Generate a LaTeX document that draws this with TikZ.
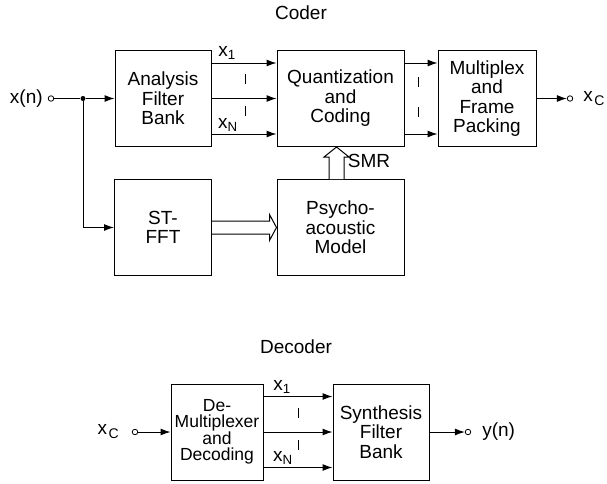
\documentclass[tikz,border=0pt]{standalone}
\usepackage{fontspec}
\setmainfont{Liberation Sans}
\usetikzlibrary{arrows.meta,positioning,calc}
\newcommand{\bigtxt}{\fontsize{19}{19.5}\selectfont}
\newcommand{\xcsym}{x\kern1.5pt\raisebox{-4pt}{\fontsize{14}{14}\selectfont C}}
\tikzset{
  block/.style={draw, line width=1pt, minimum width=#1, minimum height=96pt,
                align=center, inner sep=0pt, font=\bigtxt},
  block/.default=96pt,
  sig/.style={-{Latex[length=10pt,width=7pt]}, line width=1pt},
  wire/.style={line width=1pt},
  hollow/.style={draw, line width=1pt, fill=white, line join=miter},
  port/.style={circle, draw, line width=0.8pt, inner sep=0pt, minimum size=5.5pt},
  dot/.style={circle, fill, inner sep=0pt, minimum size=5pt},
  lbl/.style={inner sep=0pt, font=\bigtxt},
  tick/.style={line width=0.7pt},
}

\begin{document}
\begin{tikzpicture}[x=1pt,y=-1pt]
  \useasboundingbox (0,0) rectangle (607,483);
  % coder
  \node[lbl] (coder) at (301,13) {Coder};
  \node[block] (afb) at (163,98.5) {Analysis\\Filter\\Bank};
  \node[block=127pt,right=65pt of afb] (qc) {Quantization\\and\\Coding};
  \node[block=98pt,right=33pt of qc] (mux) {Multiplex\\and\\Frame\\Packing};
  \node[block=97pt,below=32pt of afb] (fft) {ST-\\FFT};
  \node[block=127pt,below=32pt of qc] (psy) {Psycho-\\acoustic\\Model};

  \node[port] (in) at (51,98.5) {};
  \node[lbl,left=5pt of in] (xn) {x(n)};
  \node[dot] (br) at (83,98.5) {};
  \draw[wire] (in) -- (br);
  \draw[sig] (br) -- (afb);
  \draw[sig] (br) |- (fft);

  \foreach \dy in {35.5,0,-35.5}
    \draw[sig] ([yshift=\dy pt]afb.east) -- ([yshift=\dy pt]qc.west);
  \node[lbl] (xa1) at (227,53) {x\textsubscript{1}};
  \node[lbl] (xaN) at (228,125) {x\textsubscript{N}};
  \draw[tick] (245,74) -- (245,84);
  \draw[tick] (245,106) -- (245,116);

  \foreach \dy in {35.5,-35.5}
    \draw[sig] ([yshift=\dy pt]qc.east) -- ([yshift=\dy pt]mux.west);
  \draw[tick] (418,77) -- (418,87);
  \draw[tick] (418,107) -- (418,117);

  \node[port] (out) at (570,98.5) {};
  \draw[sig] (mux) -- (out);
  \node[lbl,right=10pt of out] (xc) {\xcsym};

  % block arrows
  \draw[hollow] ($(fft.east)+(0pt,6.5pt)$) -- ($(psy.west)+(-7pt,6.5pt)$)
    -- ($(psy.west)+(-7pt,13pt)$) -- (psy.west) -- ($(psy.west)+(-7pt,-13pt)$)
    -- ($(psy.west)+(-7pt,-6.5pt)$) -- ($(fft.east)+(0pt,-6.5pt)$);
  \draw[hollow] ($(psy.north)+(-11.5pt,0pt)$) -- ($(qc.south)+(-11.5pt,-10pt)$)
    -- ($(qc.south)+(-16.5pt,-10pt)$) -- ($(qc.south)+(-4pt,0pt)$)
    -- ($(qc.south)+(8.5pt,-10pt)$) -- ($(qc.south)+(3.5pt,-10pt)$)
    -- ($(psy.north)+(3.5pt,0pt)$);
  \node[lbl] (smr) at (369,161) {SMR};

  % decoder
  \node[lbl] (decoder) at (296,347) {Decoder};
  \node[block=92pt,font=\fontsize{17.5}{16.5}\selectfont] (dmx) at (217,432) {De-\\Multiplexer\\and\\Decoding};
  \node[block,right=69pt of dmx] (syn) {Synthesis\\Filter\\Bank};

  \node[port] (din) at (135,432) {};
  \node[lbl,left=13pt of din] (dxc) {\xcsym};
  \draw[sig] (din) -- (dmx);

  \foreach \dy in {35.5,0,-35.5}
    \draw[sig] ([yshift=\dy pt]dmx.east) -- ([yshift=\dy pt]syn.west);
  \node[lbl] (xb1) at (282,387) {x\textsubscript{1}};
  \node[lbl] (xbN) at (283,458) {x\textsubscript{N}};
  \draw[tick] (298,408) -- (298,418);
  \draw[tick] (298,440) -- (298,450);

  \node[port] (dout) at (468,432) {};
  \draw[sig] (syn) -- (dout);
  \node[lbl,right=11pt of dout] (yn) {y(n)};
\end{tikzpicture}
\end{document}
